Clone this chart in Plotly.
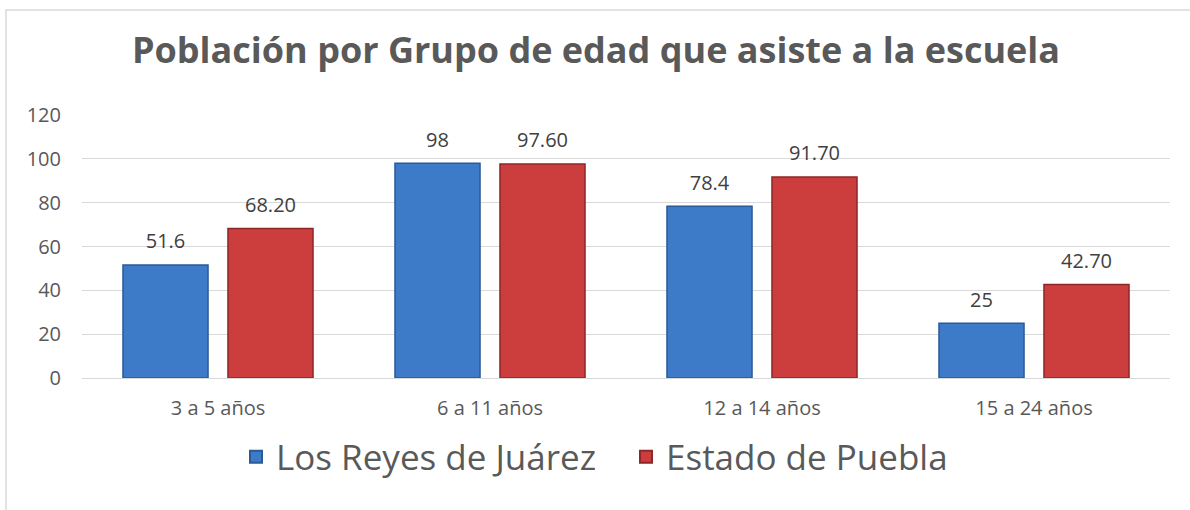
import plotly.graph_objects as go

categories = ["3 a 5 años", "6 a 11 años", "12 a 14 años", "15 a 24 años"]
reyes = [51.6, 98, 78.4, 25]
puebla = [68.20, 97.60, 91.70, 42.70]
series_names = ["Los Reyes de Juárez", "Estado de Puebla"]
y_ticks = [0, 20, 40, 60, 80, 100, 120]

FONT = "Open Sans"
BAR_GAP = 0.228

fig = go.Figure()
fig.add_trace(go.Bar(
    x=categories, y=reyes, name=series_names[0], offsetgroup="a",
    marker=dict(color="#3D7BC8", line=dict(color="#2A5A98", width=1.5)),
))
fig.add_trace(go.Bar(
    x=categories, y=puebla, name=series_names[1], offsetgroup="b",
    marker=dict(color="#CC3D3D", line=dict(color="#8E2727", width=1.5)),
))
# value labels: text sits above an invisible marker at the bar top
fig.add_trace(go.Scatter(
    x=categories, y=reyes, mode="markers+text", offsetgroup="a", showlegend=False,
    marker=dict(size=17, opacity=0), texttemplate="%{y}", textposition="top center",
    textfont=dict(family=FONT, size=20, color="#404040"), cliponaxis=False,
    hoverinfo="skip",
))
fig.add_trace(go.Scatter(
    x=categories, y=puebla, mode="markers+text", offsetgroup="b", showlegend=False,
    marker=dict(size=17, opacity=0), texttemplate="%{y:.2f}", textposition="top center",
    textfont=dict(family=FONT, size=20, color="#404040"), cliponaxis=False,
    hoverinfo="skip",
))

fig.update_layout(
    template="none",
    width=1190, height=510,
    margin=dict(l=82, r=20, t=115, b=132, autoexpand=False),
    paper_bgcolor="white", plot_bgcolor="white",
    barmode="group", bargap=BAR_GAP, bargroupgap=0.19,
    scattermode="group", scattergap=BAR_GAP,
    title=dict(text="<b>Población por Grupo de edad que asiste a la escuela</b>",
               x=596 / 1190, xanchor="center", y=1 - 50 / 510, yanchor="middle",
               font=dict(family=FONT, size=36, color="#595959")),
    legend=dict(orientation="h", x=0.5, xanchor="center", y=-0.30, yanchor="middle",
                font=dict(family=FONT, size=35, color="#595959"),
                itemsizing="constant", traceorder="normal", itemwidth=30,
                entrywidth=345),
    showlegend=True,
    shapes=[dict(type="rect", xref="paper", yref="paper",
                 x0=(6 - 82) / 1088, x1=(1200 - 82) / 1088,
                 y0=(378 - 520) / 263, y1=(378 - 10) / 263,
                 line=dict(color="#D9D9D9", width=1.5), fillcolor="rgba(0,0,0,0)",
                 layer="below")],
)
fig.update_yaxes(range=[0, 120], tickvals=y_ticks, showgrid=True, gridcolor="#D9D9D9",
                 gridwidth=1, zeroline=False, showline=False, automargin=False,
                 ticks="", tickfont=dict(family=FONT, size=20, color="#595959"),
                 ticklabelstandoff=20)
fig.update_xaxes(showgrid=False, showline=True, linecolor="#D9D9D9", linewidth=1,
                 automargin=False, ticks="",
                 tickfont=dict(family=FONT, size=20, color="#595959"),
                 ticklabelstandoff=12)

fig.write_html("out.html",
               config={"displayModeBar": False},
               post_script="document.body.style.margin='0';document.body.style.overflow='hidden';")
